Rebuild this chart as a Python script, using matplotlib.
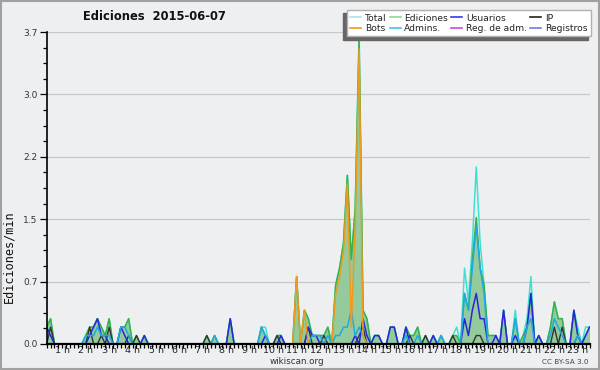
import numpy as np
import matplotlib
matplotlib.use("Agg")
import matplotlib.pyplot as plt
from matplotlib.lines import Line2D
from matplotlib.ticker import FixedLocator, MultipleLocator, AutoMinorLocator
from matplotlib.patches import Rectangle

# 10-minute bins from 00:20 to 23:30 (edits per minute)
start_min = 20
step_min = 10

total = [
    0.2, 0.3, 0, 0,
    0, 0, 0, 0, 0, 0,
    0.1, 0.2, 0.2, 0.3, 0.2, 0.1,
    0.3, 0, 0, 0.2, 0.2, 0.3,
    0, 0.1, 0, 0.1, 0, 0,
    0, 0, 0, 0, 0, 0,
    0, 0, 0, 0, 0, 0,
    0, 0.1, 0, 0.1, 0, 0,
    0, 0.3, 0, 0, 0, 0,
    0, 0, 0, 0.2, 0.2, 0,
    0, 0.1, 0.1, 0, 0, 0,
    0.8, 0, 0.4, 0.3, 0.1, 0.1,
    0.1, 0.1, 0.2, 0, 0.7, 0.9,
    1.2, 2.0, 1.0, 1.6, 3.7, 0.4,
    0.3, 0, 0.1, 0.1, 0, 0,
    0.2, 0.2, 0, 0, 0.2, 0.1,
    0.1, 0.2, 0, 0.1, 0, 0.1,
    0, 0.1, 0, 0, 0.1, 0.2,
    0, 0.9, 0.5, 1.2, 2.1, 1.2,
    0.7, 0.1, 0.1, 0.1, 0, 0.4,
    0, 0, 0.4, 0, 0.1, 0.3,
    0.8, 0, 0.1, 0, 0, 0.2,
    0.5, 0.3, 0.3, 0, 0, 0.4,
    0.2, 0, 0.2, 0.2,
]

ediciones = [
    0.2, 0.3, 0, 0,
    0, 0, 0, 0, 0, 0,
    0.1, 0.2, 0.2, 0.3, 0.2, 0.1,
    0.3, 0, 0, 0.2, 0.2, 0.3,
    0, 0.1, 0, 0.1, 0, 0,
    0, 0, 0, 0, 0, 0,
    0, 0, 0, 0, 0, 0,
    0, 0.1, 0, 0.1, 0, 0,
    0, 0.3, 0, 0, 0, 0,
    0, 0, 0, 0.2, 0.1, 0,
    0, 0.1, 0.1, 0, 0, 0,
    0.8, 0, 0.4, 0.3, 0.1, 0.1,
    0.1, 0.1, 0.2, 0, 0.7, 0.9,
    1.2, 2.0, 1.0, 1.6, 3.6, 0.4,
    0.3, 0, 0.1, 0.1, 0, 0,
    0.2, 0.2, 0, 0, 0.2, 0.1,
    0.1, 0.2, 0, 0.1, 0, 0.1,
    0, 0.1, 0, 0, 0.1, 0.1,
    0, 0.6, 0.4, 1.0, 1.5, 0.9,
    0.7, 0.1, 0.1, 0.1, 0, 0.4,
    0, 0, 0.3, 0, 0.1, 0.2,
    0.6, 0, 0.1, 0, 0, 0.2,
    0.5, 0.3, 0.3, 0, 0, 0.4,
    0.1, 0, 0.1, 0.2,
]

usuarios = [
    0.2, 0.1, 0, 0,
    0, 0, 0, 0, 0, 0,
    0, 0.1, 0.2, 0.3, 0.1, 0.1,
    0, 0, 0, 0.2, 0.1, 0,
    0, 0, 0, 0.1, 0, 0,
    0, 0, 0, 0, 0, 0,
    0, 0, 0, 0, 0, 0,
    0, 0, 0, 0, 0, 0,
    0, 0.3, 0, 0, 0, 0,
    0, 0, 0, 0, 0.1, 0,
    0, 0, 0.1, 0, 0, 0,
    0, 0, 0, 0.2, 0.1, 0.1,
    0, 0, 0, 0, 0, 0,
    0, 0, 0, 0.1, 0, 0.3,
    0.1, 0, 0.1, 0.1, 0, 0,
    0.2, 0.2, 0, 0, 0.2, 0,
    0, 0, 0, 0, 0, 0.1,
    0, 0, 0, 0, 0, 0,
    0, 0.3, 0.1, 0.4, 0.6, 0.3,
    0.3, 0, 0, 0.1, 0, 0.4,
    0, 0, 0.1, 0, 0, 0.2,
    0.6, 0, 0.1, 0, 0, 0,
    0, 0, 0, 0, 0, 0.4,
    0.1, 0, 0.1, 0.2,
]

ip = [
    0, 0.2, 0, 0,
    0, 0, 0, 0, 0, 0,
    0, 0.2, 0, 0, 0.1, 0,
    0.2, 0, 0, 0, 0, 0.1,
    0, 0.1, 0, 0, 0, 0,
    0, 0, 0, 0, 0, 0,
    0, 0, 0, 0, 0, 0,
    0, 0.1, 0, 0, 0, 0,
    0, 0, 0, 0, 0, 0,
    0, 0, 0, 0, 0, 0,
    0, 0.1, 0, 0, 0, 0,
    0, 0, 0, 0.2, 0, 0,
    0, 0.1, 0, 0, 0, 0,
    0, 0, 0, 0, 0.1, 0.2,
    0, 0, 0, 0, 0, 0,
    0, 0, 0, 0, 0, 0.1,
    0, 0, 0, 0.1, 0, 0,
    0, 0, 0, 0, 0.1, 0,
    0, 0, 0, 0, 0.1, 0.1,
    0, 0, 0, 0, 0, 0,
    0, 0, 0, 0, 0, 0,
    0, 0, 0, 0, 0, 0,
    0.2, 0, 0.2, 0, 0, 0,
    0.1, 0, 0, 0,
]

bots = [
    0, 0, 0, 0,
    0, 0, 0, 0, 0, 0,
    0, 0, 0, 0, 0, 0,
    0, 0, 0, 0, 0, 0,
    0, 0, 0, 0, 0, 0,
    0, 0, 0, 0, 0, 0,
    0, 0, 0, 0, 0, 0,
    0, 0, 0, 0, 0, 0,
    0, 0, 0, 0, 0, 0,
    0, 0, 0, 0, 0, 0,
    0, 0, 0, 0, 0, 0,
    0.8, 0, 0.4, 0, 0, 0,
    0, 0, 0, 0, 0.6, 0.8,
    1.1, 1.9, 0.2, 1.4, 3.5, 0.1,
    0, 0, 0, 0, 0, 0,
    0, 0, 0, 0, 0, 0,
    0, 0, 0, 0, 0, 0,
    0, 0, 0, 0, 0, 0,
    0, 0, 0, 0, 0, 0,
    0, 0, 0, 0, 0, 0,
    0, 0, 0, 0, 0, 0,
    0, 0, 0, 0, 0, 0,
    0, 0, 0, 0, 0, 0,
    0, 0, 0, 0,
]

admins = [
    0, 0, 0, 0,
    0, 0, 0, 0, 0, 0,
    0.1, 0.1, 0.1, 0.2, 0.1, 0.1,
    0.1, 0, 0, 0.2, 0.2, 0.1,
    0, 0, 0, 0, 0, 0,
    0, 0, 0, 0, 0, 0,
    0, 0, 0, 0, 0, 0,
    0, 0, 0, 0.1, 0, 0,
    0, 0, 0, 0, 0, 0,
    0, 0, 0, 0.2, 0.1, 0,
    0, 0, 0, 0, 0, 0,
    0, 0, 0, 0, 0.1, 0.1,
    0.1, 0, 0.1, 0, 0.1, 0.1,
    0.2, 0.2, 0.4, 0.1, 0.2, 0.1,
    0, 0, 0, 0, 0, 0,
    0, 0, 0, 0, 0.1, 0,
    0, 0.1, 0, 0, 0, 0,
    0, 0.1, 0, 0, 0, 0,
    0, 0.6, 0.4, 0.9, 1.4, 0.9,
    0.6, 0, 0, 0, 0, 0,
    0, 0, 0.3, 0, 0, 0.2,
    0.3, 0, 0, 0, 0, 0.1,
    0.3, 0.2, 0.1, 0, 0, 0,
    0.1, 0, 0, 0,
]

legend_labels = ["Total", "Bots", "Ediciones", "Admins.", "Usuarios",
                 "Reg. de adm.", "IP", "Registros"]
hour_labels = [f"{h} h" for h in range(1, 24)]
y_ticks = [0.0, 0.74, 1.48, 2.22, 2.96, 3.7]
y_tick_labels = ["0.0", "0.7", "1.5", "2.2", "3.0", "3.7"]

BG = "#eeeff1"
C_TOTAL = "#40e0d0"
C_EDIT = "#3cb043"
C_FILL = "#95cb9c"
C_USER = "#2626e0"
C_IP = "#333333"
C_BOT = "#f09a1e"
C_ADMIN = "#1eaae6"
C_REGADM = "#c050e0"
C_REG = "#7878f0"

n = len(total)
hours = (start_min + step_min * np.arange(n)) / 60.0

fig = plt.figure(figsize=(6.0, 3.7), dpi=100, facecolor=BG)
ax = fig.add_axes([0.0778, 0.0703, 0.9047, 0.8432])
ax.set_facecolor(BG)

ax.fill_between(hours, 0, ediciones, color=C_FILL, lw=0, zorder=2)
ax.plot(hours, total, color=C_TOTAL, lw=1.1, zorder=3)
ax.plot(hours, ediciones, color=C_EDIT, lw=1.1, zorder=4)
ax.plot(hours, ip, color=C_IP, lw=1.0, zorder=5)
ax.plot(hours, usuarios, color=C_USER, lw=1.1, zorder=6)
ax.plot(hours, admins, color=C_ADMIN, lw=1.1, zorder=7)
ax.plot(hours, bots, color=C_BOT, lw=1.1, zorder=8)

ax.set_xlim(hours[0], hours[-1])
ax.set_ylim(0, 3.7)

ax.yaxis.set_major_locator(FixedLocator(y_ticks))
ax.set_yticklabels(y_tick_labels)
ax.yaxis.set_minor_locator(AutoMinorLocator(4))
ax.xaxis.set_major_locator(FixedLocator(list(range(1, 24))))
ax.set_xticklabels(hour_labels)
ax.xaxis.set_minor_locator(MultipleLocator(step_min / 60.0))

ax.grid(axis="y", which="major", color="#c8c8c8", lw=0.9)
ax.set_axisbelow(True)

for s in ("top", "right"):
    ax.spines[s].set_visible(False)
ax.spines["left"].set_linewidth(1.2)
ax.spines["bottom"].set_linewidth(1.6)
ax.spines["left"].set_zorder(10)
ax.spines["bottom"].set_zorder(10)

ax.tick_params(axis="y", which="major", length=5, width=0.9, labelsize=6.5,
               labelcolor="#333333", pad=1.5)
ax.tick_params(axis="y", which="minor", length=3, width=0.9)
ax.tick_params(axis="x", which="both", length=3, width=0.9, labelsize=6.8,
               labelcolor="#222222", pad=-1.6)

fig.text(154 / 600, 1 - 17 / 370, "Ediciones  2015-06-07", fontsize=8.3,
         fontweight="bold", ha="center", va="center", color="#111111")
fig.text(9 / 600, 1 - 257 / 370, "Ediciones/min", family="DejaVu Sans Mono",
         fontsize=8.5, rotation=90, ha="center", va="center", color="#111111")
fig.text(297 / 600, 1 - 361.5 / 370, "wikiscan.org", fontsize=6.3,
         ha="center", va="center", color="#333333")
fig.text(589 / 600, 1 - 362 / 370, "CC BY-SA 3.0", fontsize=5.2,
         ha="right", va="center", color="#444444")

handles = [
    Line2D([], [], color="#a8e6e6", lw=1.2),
    Line2D([], [], color=C_BOT, lw=1.2),
    Line2D([], [], color="#90d890", lw=1.2),
    Line2D([], [], color="#40c8e0", lw=1.2),
    Line2D([], [], color="#3a3ae6", lw=1.2),
    Line2D([], [], color=C_REGADM, lw=1.2),
    Line2D([], [], color="#222222", lw=1.2),
    Line2D([], [], color=C_REG, lw=1.2),
]
leg = fig.legend(handles, legend_labels, ncol=4, loc="upper right",
                 bbox_to_anchor=(591 / 600, 1 - 10 / 370), fontsize=6.6,
                 frameon=True, fancybox=False, framealpha=1,
                 edgecolor="#b0b0b0", facecolor="white",
                 handlelength=1.2, handletextpad=0.4, columnspacing=0.35,
                 labelspacing=0.12, borderpad=0.4, borderaxespad=0,
                 shadow={"ox": -2.5, "oy": -2.5, "color": "#666666", "alpha": 1})
for t in leg.get_texts():
    t.set_color("#222222")
leg.set_zorder(20)

fig.patches.append(Rectangle((0.0015, 0.002), 0.997, 0.996, transform=fig.transFigure,
                             fill=False, edgecolor="#a0a0a0", lw=1.5, zorder=30))

fig.savefig("out.png", dpi=100, facecolor=BG)
